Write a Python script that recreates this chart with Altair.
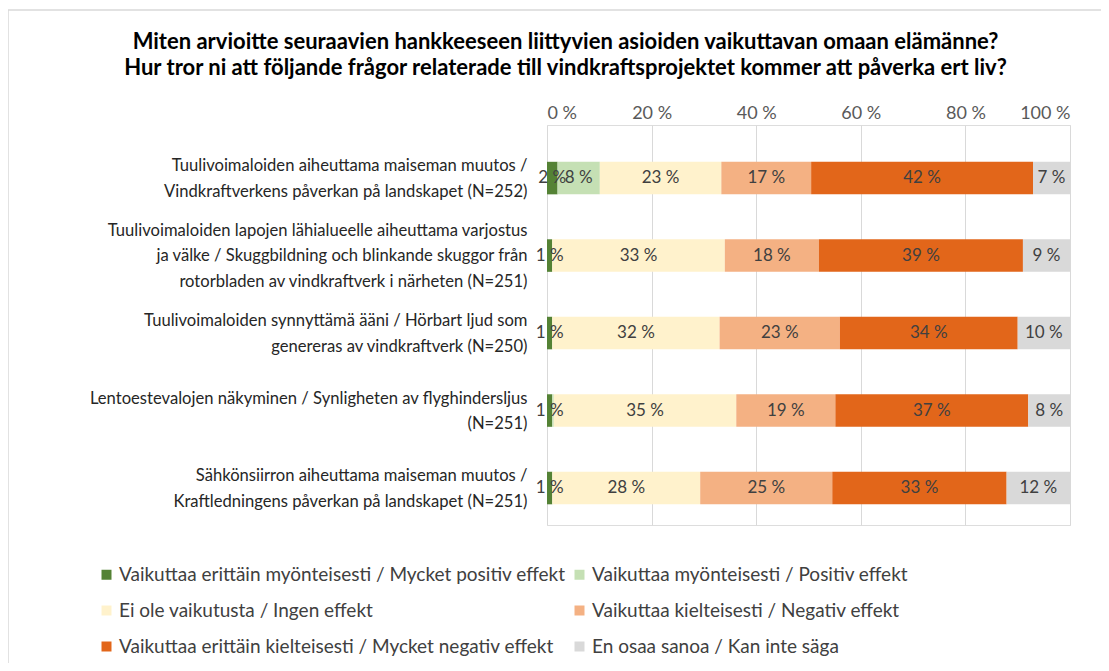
import altair as alt
import pandas as pd

items = [
    "Tuulivoimaloiden aiheuttama maiseman muutos /|Vindkraftverkens påverkan på landskapet (N=252)",
    "Tuulivoimaloiden lapojen lähialueelle aiheuttama varjostus|ja välke / Skuggbildning och blinkande skuggor från|rotorbladen av vindkraftverk i närheten (N=251)",
    "Tuulivoimaloiden synnyttämä ääni / Hörbart ljud som|genereras av vindkraftverk (N=250)",
    "Lentoestevalojen näkyminen / Synligheten av flyghindersljus|(N=251)",
    "Sähkönsiirron aiheuttama maiseman muutos /|Kraftledningens påverkan på landskapet (N=251)",
]
categories = [
    "Vaikuttaa erittäin myönteisesti / Mycket positiv effekt",
    "Vaikuttaa myönteisesti / Positiv effekt",
    "Ei ole vaikutusta / Ingen effekt",
    "Vaikuttaa kielteisesti / Negativ effekt",
    "Vaikuttaa erittäin kielteisesti / Mycket negativ effekt",
    "En osaa sanoa / Kan inte säga",
]
colors = ["#548235", "#C5E0B4", "#FFF2CC", "#F4B183", "#E2661A", "#D9D9D9"]

very_positive = [2, 1, 1, 1, 1]
positive = [8, 0, 0, 0.3, 0]
no_effect = [23, 33, 32, 35, 28]
negative = [17, 18, 23, 19, 25]
very_negative = [42, 39, 34, 37, 33]
dont_know = [7, 9, 10, 8, 12]

series = [very_positive, positive, no_effect, negative, very_negative, dont_know]
rows = []
for ci, (cat, vals) in enumerate(zip(categories, series)):
    for ii, (item, v) in enumerate(zip(items, vals)):
        rows.append({"item": item, "cat": cat, "order": ci, "value": v})
df = pd.DataFrame(rows)

FONT = "Lato"
TXT = "#404040"

base = alt.Chart(df).transform_stack(
    stack="value", groupby=["item"], as_=["x0", "x1"],
    sort=[alt.SortField("order", order="ascending")], offset="normalize"
).transform_calculate(
    mid="(datum.x0 + datum.x1) / 2",
    lbl="round(datum.value) + ' %'",
)

yenc = alt.Y("item:N", sort=items, title=None,
             scale=alt.Scale(paddingInner=0.58, paddingOuter=0.371, align=0.64),
             axis=alt.Axis(labelExpr="split(datum.label, '|')", labelFontSize=16.6,
                           labelLineHeight=25.5, labelPadding=20, labelLimit=0,
                           labelColor="#262626", labelFont=FONT,
                           labelOffset={"condition": {"test": "length(split(datum.label, '|')) > 2",
                                                      "value": -25},
                                        "value": -12},
                           domain=False, ticks=False, grid=False))

bars = base.mark_bar().encode(
    x=alt.X("x0:Q", scale=alt.Scale(domain=[0, 1], nice=False),
            axis=alt.Axis(orient="top", values=[0, 0.2, 0.4, 0.6, 0.8, 1.0],
                          labelExpr="round(datum.value * 100) + ' %'",
                          labelFontSize=18, labelColor="#595959", labelFont=FONT,
                          domain=False, ticks=False, grid=True, gridColor="#D9D9D9",
                          labelPadding=3),
            title=None),
    x2="x1:Q",
    y=yenc,
    color=alt.Color("cat:N", sort=categories,
                    scale=alt.Scale(domain=categories, range=colors),
                    legend=alt.Legend(title=None, orient="none", legendX=-450, legendY=440,
                                      columns=2, symbolType="square", symbolSize=100,
                                      symbolStrokeWidth=0, labelFontSize=19,
                                      labelFont=FONT, labelColor=TXT,
                                      rowPadding=16, columnPadding=4, labelLimit=0,
                                      labelOffset=3, direction="horizontal")),
)

texts = base.transform_filter("datum.value >= 1").mark_text(
    fontSize=17, font=FONT, color=TXT
).encode(
    x=alt.X("mid:Q"),
    y=alt.Y("item:N", sort=items),
    text="lbl:N",
)

frame = alt.Chart(pd.DataFrame({"f": [0]})).mark_rect(
    fill=None, stroke="#D9D9D9", strokeWidth=1.5
).encode(x=alt.value(-539), x2=alt.value(700), y=alt.value(-115), y2=alt.value(800))

chart = alt.layer(frame, bars, texts).properties(
    width=523, height=400,
    padding={"left": 539, "top": 117, "right": 31, "bottom": 138},
    autosize=alt.AutoSizeParams(type="none"),
    title=alt.TitleParams(
        text=["Miten arvioitte seuraavien hankkeeseen liittyvien asioiden vaikuttavan omaan elämänne?",
              "Hur tror ni att följande frågor relaterade till vindkraftsprojektet kommer att påverka ert liv?"],
        fontSize=22, font=FONT, fontWeight="bold", color="#000000",
        anchor="middle", frame="group", dx=-243, dy=91, offset=20, lineHeight=26,
    ),
).configure_view(stroke=None).configure(background="white")

chart.save("out.html", embed_options={"renderer": "svg", "actions": False})
